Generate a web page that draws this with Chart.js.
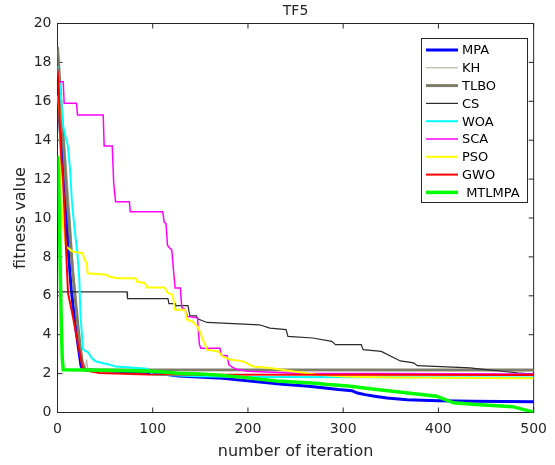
<!DOCTYPE html>
<html>
<head>
<meta charset="utf-8">
<title>TF5</title>
<script src="https://cdn.jsdelivr.net/npm/chart.js@4.4.0/dist/chart.umd.min.js"></script>
<style>
  html, body { margin: 0; padding: 0; background: #fff; }
  #wrap { width: 555px; height: 465px; }
</style>
</head>
<body>
<div id="wrap"><canvas id="tf5Chart" width="555" height="465"></canvas></div>
<script>
// Convergence curves, [iteration, fitness value]
const xTickValues = [0, 100, 200, 300, 400, 500];
const yTickValues = [0, 2, 4, 6, 8, 10, 12, 14, 16, 18, 20];

const mpaCurve = [
    [0, 16], [2, 15], [4, 13.8], [6, 13], [8, 11.9], [11, 8.5], [14.5, 6.3], [18, 4.77],
    [21.3, 3.57], [24.8, 2.37], [28, 2.2], [60, 2.12], [100, 2.05], [127, 1.88], [168, 1.78],
    [202, 1.62], [236, 1.45], [264, 1.35], [295, 1.18], [309, 1.12], [315, 1.0], [323, 0.92],
    [333, 0.84], [346, 0.75], [367, 0.65], [400, 0.61], [436, 0.58], [500, 0.55]
];
const khCurve = [
    [0, 18.6], [2, 17.5], [5, 15.5], [8, 13.5], [11, 11.5], [14, 9.5], [16, 7.8], [18, 6.6],
    [20, 5.5], [22, 4.4], [24, 3.4], [26, 2.7], [28, 2.3], [29.5, 2.3], [30.5, 2.72], [32, 2.2],
    [500, 2.15]
];
const tlboCurve = [
    [0, 18.8], [2, 17.3], [4, 15.5], [6, 14], [8, 12.5], [10, 11], [12, 9.8], [14, 8.5],
    [16, 7.2], [18, 6.2], [20, 5.2], [22, 4.2], [24, 3.3], [26, 2.6], [28, 2.3], [30, 2.2],
    [500, 2.18]
];
const csCurve = [
    [0, 6.2], [73, 6.2], [73.5, 5.85], [116, 5.85], [117, 5.6], [123.5, 5.6], [124, 5.5],
    [137, 5.5], [139, 4.97], [146, 4.97], [147, 4.82], [157, 4.63], [212, 4.51], [223, 4.34],
    [240, 4.26], [242, 3.91], [268, 3.83], [288, 3.66], [292, 3.49], [319, 3.49], [321, 3.23],
    [340, 3.14], [360, 2.65], [374, 2.55], [378, 2.41], [433, 2.29], [450, 2.2], [467, 2.12],
    [483, 2.04], [500, 1.98]
];
const woaCurve = [
    [0, 17.8], [3, 16.6], [6, 14.7], [11, 13.65], [13, 12.6], [14, 11.9], [15, 10.9], [18, 9.4],
    [21, 8.1], [23, 6.8], [24, 5.1], [25.5, 4.1], [26.5, 3.3], [28, 3.2], [32, 3.1], [36, 2.8],
    [40, 2.63], [47, 2.55], [55, 2.46], [61, 2.37], [94, 2.25], [100, 1.95], [147, 1.86],
    [200, 1.83], [500, 1.8]
];
const scaCurve = [
    [0, 17.5], [2, 17], [6, 17], [7, 15.9], [20, 15.9], [21, 15.3], [48, 15.3], [49, 13.7],
    [57.5, 13.7], [59, 11.8], [61, 10.84], [75.5, 10.84], [76.5, 10.32], [110.5, 10.32],
    [112, 9.8], [114, 9.7], [115.5, 8.6], [117, 8.5], [120, 8.36], [122, 7.2], [123.5, 6.4],
    [129, 6.4], [130.5, 5.4], [134, 5.3], [136.5, 4.94], [147, 4.87], [149, 3.5], [150.5, 3.3],
    [170.5, 3.3], [172, 2.95], [178, 2.92], [180, 2.46], [183, 2.35], [187, 2.24], [200, 2.12],
    [250, 2.02], [500, 1.98]
];
const psoCurve = [
    [0, 16.3], [2, 15.5], [3, 13], [4, 11], [6, 9.5], [9, 8.53], [16, 8.27], [26.5, 8.19],
    [28, 7.9], [30.6, 7.7], [31.6, 7.16], [52, 7.08], [54, 6.99], [62.6, 6.9], [82, 6.9],
    [83.5, 6.73], [92, 6.65], [93.6, 6.43], [112.6, 6.43], [115.3, 6.17], [121, 6.05],
    [123.5, 5.28], [134, 5.28], [136, 4.77], [141.8, 4.68], [147, 4.43], [150, 4.09],
    [157, 3.23], [169, 3.14], [173, 2.89], [178, 2.8], [181, 2.72], [195, 2.63], [205.6, 2.37],
    [223, 2.29], [247, 2.12], [271, 1.95], [300, 1.85], [350, 1.8], [500, 1.76]
];
const gwoCurve = [
    [0, 17.7], [1, 17], [2, 15.5], [3, 14], [4, 13], [5.8, 11.95], [8, 9.5], [11, 6.15],
    [15.5, 5.1], [21.3, 3.6], [26.4, 2.3], [30, 2.15], [44, 2.03], [95, 1.95], [500, 1.93]
];
const mtlmpaCurve = [
    [0, 13.2], [1, 12.5], [2, 10], [3, 7], [4, 4.5], [5, 2.8], [6, 2.2], [50, 2.17], [100, 2.12],
    [127, 2.02], [150, 1.98], [168, 1.93], [200, 1.78], [230, 1.62], [271, 1.5], [281, 1.45],
    [305, 1.36], [333, 1.19], [398, 0.84], [416, 0.5], [436, 0.42], [478, 0.3], [500, 0.02]
];

const seriesLabels = ['MPA', 'KH', 'TLBO', 'CS', 'WOA', 'SCA', 'PSO', 'GWO', ' MTLMPA'];
const seriesCurves = [mpaCurve, khCurve, tlboCurve, csCurve, woaCurve, scaCurve, psoCurve, gwoCurve, mtlmpaCurve];

// line styles, MATLAB-like
const lineColors = ['#0000ff', '#b0a796', '#7f7d68', '#2b2b2b', '#00ffff', '#ff00ff', '#ffff00', '#ff0000', '#00ff00'];
const lineWidths = [3, 1, 3, 1.2, 2, 1.5, 2, 2, 3.5];

const FONT = '"DejaVu Sans", "Liberation Sans", Arial, sans-serif';
const AXIS_COLOR = '#262626';

// box, inward ticks, title, axis labels and legend drawn like a MATLAB figure
const matlabFrame = {
    id: 'matlabFrame',
    beforeDatasetsDraw(chart) {
        const { ctx, chartArea: a, scales } = chart;
        const tick = 5;
        ctx.save();
        ctx.strokeStyle = AXIS_COLOR;
        ctx.lineWidth = 1;
        ctx.strokeRect(a.left, a.top, a.right - a.left, a.bottom - a.top);
        ctx.beginPath();
        xTickValues.forEach(v => {
            const x = scales.x.getPixelForValue(v);
            ctx.moveTo(x, a.bottom); ctx.lineTo(x, a.bottom - tick);
            ctx.moveTo(x, a.top); ctx.lineTo(x, a.top + tick);
        });
        yTickValues.forEach(v => {
            const y = scales.y.getPixelForValue(v);
            ctx.moveTo(a.left, y); ctx.lineTo(a.left + tick, y);
            ctx.moveTo(a.right, y); ctx.lineTo(a.right - tick, y);
        });
        ctx.stroke();
        ctx.restore();
    },
    afterDraw(chart) {
        const { ctx, chartArea: a } = chart;
        const midX = (a.left + a.right) / 2;
        const midY = (a.top + a.bottom) / 2;
        ctx.save();
        ctx.fillStyle = AXIS_COLOR;
        ctx.textAlign = 'center';
        ctx.textBaseline = 'middle';

        ctx.font = '14px ' + FONT;
        ctx.fillText('TF5', midX, 11);

        ctx.font = '16px ' + FONT;
        ctx.fillText('number of iteration', midX, 452);
        ctx.save();
        ctx.translate(21, midY);
        ctx.rotate(-Math.PI / 2);
        ctx.fillText('fitness value', 0, 0);
        ctx.restore();

        // legend box
        const box = { left: 421.5, top: 38.5, width: 106, height: 164 };
        ctx.fillStyle = '#ffffff';
        ctx.fillRect(box.left, box.top, box.width, box.height);
        ctx.strokeStyle = AXIS_COLOR;
        ctx.lineWidth = 1;
        ctx.strokeRect(box.left, box.top, box.width, box.height);

        ctx.font = '13px ' + FONT;
        ctx.textAlign = 'left';
        chart.data.datasets.forEach((ds, i) => {
            const y = 50 + i * 17.8;
            ctx.strokeStyle = ds.borderColor;
            ctx.lineWidth = ds.borderWidth;
            ctx.beginPath();
            ctx.moveTo(426, y);
            ctx.lineTo(458, y);
            ctx.stroke();
            ctx.fillStyle = '#000000';
            ctx.fillText(ds.label, 462, y + 1);
        });
        ctx.restore();
    }
};

const datasets = seriesCurves.map((curve, i) => ({
    label: seriesLabels[i],
    data: curve.map(p => ({ x: p[0], y: p[1] })),
    borderColor: lineColors[i],
    borderWidth: lineWidths[i],
    pointRadius: 0,
    tension: 0,
    fill: false,
    order: seriesCurves.length - 1 - i
}));

new Chart(document.getElementById('tf5Chart'), {
    type: 'line',
    data: { datasets },
    plugins: [matlabFrame],
    options: {
        responsive: false,
        animation: false,
        devicePixelRatio: 1,
        layout: { padding: { top: 23.5, right: 13.5, left: 0, bottom: 0 } },
        plugins: {
            legend: { display: false },
            tooltip: { enabled: false },
            title: { display: false }
        },
        scales: {
            x: {
                type: 'linear',
                min: 0,
                max: 500,
                afterBuildTicks: axis => { axis.ticks = xTickValues.map(v => ({ value: v })); },
                afterFit: axis => { axis.height = 52.5; },
                grid: { display: false, drawTicks: false },
                border: { display: false },
                ticks: { color: AXIS_COLOR, padding: 8, font: { family: FONT, size: 14 } }
            },
            y: {
                type: 'linear',
                min: 0,
                max: 20,
                afterBuildTicks: axis => { axis.ticks = yTickValues.map(v => ({ value: v })); },
                afterFit: axis => { axis.width = 57.5; },
                grid: { display: false, drawTicks: false },
                border: { display: false },
                ticks: { color: AXIS_COLOR, padding: 6, font: { family: FONT, size: 14 } }
            }
        }
    }
});
</script>
</body>
</html>
